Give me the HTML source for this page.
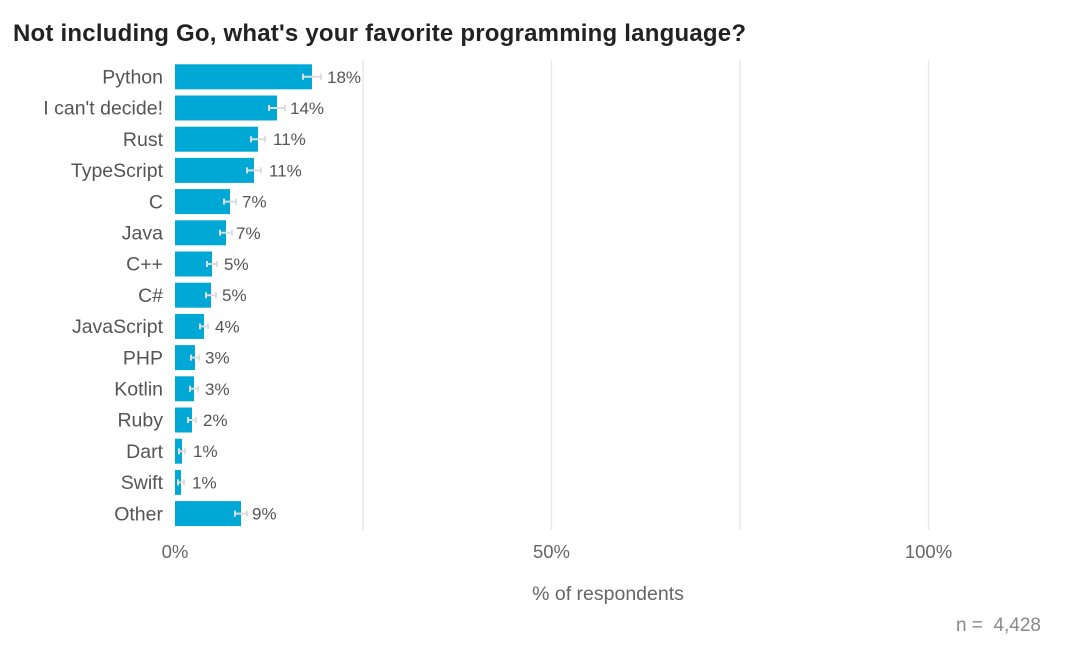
<!DOCTYPE html>
<html><head><style>
body{margin:0;background:#fff;}
svg{display:block;font-family:"Liberation Sans",Arial,sans-serif;}
</style></head><body>
<svg width="1076" height="656" xmlns="http://www.w3.org/2000/svg">
<text x="13" y="41" font-size="24" font-weight="bold" fill="#222" textLength="733" lengthAdjust="spacing">Not including Go, what's your favorite programming language?</text>
<g stroke="#e8e8e8" stroke-width="1.5">
<line x1="363" y1="60" x2="363" y2="530"/><line x1="551.5" y1="60" x2="551.5" y2="530"/><line x1="740" y1="60" x2="740" y2="530"/><line x1="928.5" y1="60" x2="928.5" y2="530"/>
</g>
<g fill="#00a8d6">
<rect x="175" y="64.3" width="137" height="25"/>
<rect x="175" y="95.5" width="102" height="25"/>
<rect x="175" y="126.7" width="83" height="25"/>
<rect x="175" y="157.9" width="79" height="25"/>
<rect x="175" y="189.1" width="55" height="25"/>
<rect x="175" y="220.3" width="51" height="25"/>
<rect x="175" y="251.5" width="37" height="25"/>
<rect x="175" y="282.7" width="36" height="25"/>
<rect x="175" y="313.9" width="29" height="25"/>
<rect x="175" y="345.1" width="20" height="25"/>
<rect x="175" y="376.3" width="19" height="25"/>
<rect x="175" y="407.5" width="17" height="25"/>
<rect x="175" y="438.7" width="7" height="25"/>
<rect x="175" y="469.9" width="6" height="25"/>
<rect x="175" y="501.1" width="66" height="25"/>
</g>
<g stroke="#ddd" stroke-width="2" fill="none">
<path d="M303 76.8H321M303 73.8V79.8M321 73.8V79.8"/>
<path d="M269 108H285M269 105V111M285 105V111"/>
<path d="M251 139.2H265M251 136.2V142.2M265 136.2V142.2"/>
<path d="M247 170.4H261M247 167.4V173.4M261 167.4V173.4"/>
<path d="M224 201.6H236M224 198.6V204.6M236 198.6V204.6"/>
<path d="M220 232.8H232M220 229.8V235.8M232 229.8V235.8"/>
<path d="M207 264H217M207 261V267M217 261V267"/>
<path d="M206 295.2H216M206 292.2V298.2M216 292.2V298.2"/>
<path d="M200 326.4H208M200 323.4V329.4M208 323.4V329.4"/>
<path d="M191 357.6H199M191 354.6V360.6M199 354.6V360.6"/>
<path d="M190 388.8H198M190 385.8V391.8M198 385.8V391.8"/>
<path d="M188 420H196M188 417V423M196 417V423"/>
<path d="M179 451.2H185M179 448.2V454.2M185 448.2V454.2"/>
<path d="M178 482.4H184M178 479.4V485.4M184 479.4V485.4"/>
<path d="M235 513.6H247M235 510.6V516.6M247 510.6V516.6"/>
</g>
<g font-size="17" fill="#555">
<text x="327" y="82.8">18%</text>
<text x="290" y="114">14%</text>
<text x="273" y="145.2">11%</text>
<text x="269" y="176.4">11%</text>
<text x="242" y="207.6">7%</text>
<text x="236" y="238.8">7%</text>
<text x="224" y="270">5%</text>
<text x="222" y="301.2">5%</text>
<text x="215" y="332.4">4%</text>
<text x="205" y="363.6">3%</text>
<text x="205" y="394.8">3%</text>
<text x="203" y="426">2%</text>
<text x="193" y="457.2">1%</text>
<text x="192" y="488.4">1%</text>
<text x="252" y="519.6">9%</text>
</g>
<g font-size="19.5" fill="#555" text-anchor="end">
<text x="163" y="83.5">Python</text>
<text x="163" y="114.7">I can't decide!</text>
<text x="163" y="145.9">Rust</text>
<text x="163" y="177.1">TypeScript</text>
<text x="163" y="208.3">C</text>
<text x="163" y="239.5">Java</text>
<text x="163" y="270.7">C++</text>
<text x="163" y="301.9">C#</text>
<text x="163" y="333.1">JavaScript</text>
<text x="163" y="364.3">PHP</text>
<text x="163" y="395.5">Kotlin</text>
<text x="163" y="426.7">Ruby</text>
<text x="163" y="457.9">Dart</text>
<text x="163" y="489.1">Swift</text>
<text x="163" y="520.3">Other</text>
</g>
<g font-size="18.5" fill="#666" text-anchor="middle">
<text x="175" y="558">0%</text><text x="551.5" y="558">50%</text><text x="928.5" y="558">100%</text>
</g>
<text x="608" y="600" font-size="19.5" fill="#666" text-anchor="middle">% of respondents</text>
<text x="1041" y="631" font-size="19" fill="#888" text-anchor="end" xml:space="preserve">n =  4,428</text>
</svg>
</body></html>
